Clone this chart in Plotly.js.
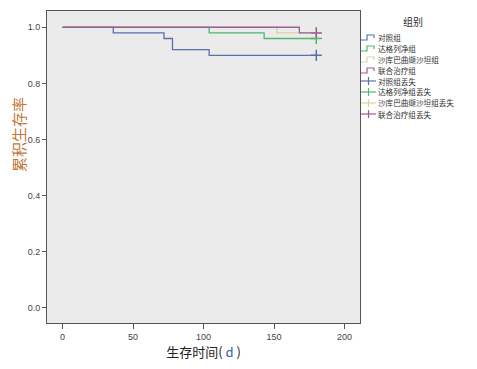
<!DOCTYPE html>
<html><head><meta charset="utf-8">
<script src="https://cdn.plot.ly/plotly-3.0.1.min.js"></script>
<style>body{margin:0;background:#fff}#chart{width:477px;height:369px}</style>
</head><body><div id="chart"></div>
<script>
const groupNames = ["对照组", "达格列净组", "沙库巴曲缬沙坦组", "联合治疗组"];
const censorNames = ["对照组丢失", "达格列净组丢失", "沙库巴曲缬沙坦组丢失", "联合治疗组丢失"];
const controlTime = [0, 36, 72, 78, 104, 180];
const controlSurv = [1.0, 0.98, 0.96, 0.92, 0.90, 0.90];
const dapaTime = [0, 104, 143, 180];
const dapaSurv = [1.0, 0.98, 0.96, 0.96];
const sacuTime = [0, 152, 180];
const sacuSurv = [1.0, 0.98, 0.98];
const comboTime = [0, 168, 180];
const comboSurv = [1.0, 0.98, 0.98];
const censorTime = [[180], [180], [180], [180]];
const censorSurv = [[0.90], [0.96], [0.98], [0.98]];
const xTicks = [0, 50, 100, 150, 200];
const yTicks = [0.0, 0.2, 0.4, 0.6, 0.8, 1.0];
const yTickText = ["0.0", "0.2", "0.4", "0.6", "0.8", "1.0"];

const colors = ["#5b6fae", "#4fb86c", "#dcd2a4", "#9a5c9a"];
const times = [controlTime, dapaTime, sacuTime, comboTime];
const survs = [controlSurv, dapaSurv, sacuSurv, comboSurv];

const traces = [];
for (let i = 0; i < 4; i++) {
  traces.push({x: times[i], y: survs[i], type: 'scatter', mode: 'lines',
    line: {shape: 'hv', color: colors[i], width: 1.3}, name: groupNames[i], showlegend: false});
}
for (let i = 0; i < 4; i++) {
  traces.push({x: censorTime[i], y: censorSurv[i], type: 'scatter', mode: 'markers',
    marker: {symbol: 'cross-thin', size: 8, line: {color: colors[i], width: 1.5}},
    name: censorNames[i], showlegend: false});
}

// custom compact legend (pixel helpers)
const PL = 47, PR = 360, PT = 11, PB = 323;
const px = v => (v - PL) / (PR - PL);
const py = v => (PB - v) / (PB - PT);
const shapes = [];
const annotations = [];
annotations.push({text: '组别', xref: 'paper', yref: 'paper', x: px(413), y: py(21), showarrow: false,
  xanchor: 'center', yanchor: 'middle', borderpad: 0, font: {family: '"Noto Sans CJK SC"', size: 10, color: '#333'}});
const allNames = groupNames.concat(censorNames);
for (let k = 0; k < 8; k++) {
  const yc = 37 + k * 11;
  const c = colors[k % 4];
  if (k < 4) {
    shapes.push({type: 'path', xref: 'paper', yref: 'paper',
      path: `M${px(361)},${py(yc + 3)} L${px(367)},${py(yc + 3)} L${px(367)},${py(yc - 2)} L${px(374)},${py(yc - 2)} L${px(374)},${py(yc + 1)}`,
      line: {color: c, width: 1.2}});
  } else {
    shapes.push({type: 'line', xref: 'paper', yref: 'paper', x0: px(361), x1: px(376), y0: py(yc), y1: py(yc), line: {color: c, width: 1.2}});
    shapes.push({type: 'line', xref: 'paper', yref: 'paper', x0: px(368.5), x1: px(368.5), y0: py(yc - 4), y1: py(yc + 4), line: {color: c, width: 1.2}});
  }
  annotations.push({text: allNames[k], xref: 'paper', yref: 'paper', x: px(377), y: py(yc), showarrow: false,
    xanchor: 'left', yanchor: 'middle', borderpad: 0,
    font: {family: '"Noto Sans CJK SC"', size: 7.6, color: '#333'}});
}
annotations.push({text: '累积生存率', xref: 'paper', yref: 'paper', x: px(18), y: py(135), textangle: -90,
  showarrow: false, font: {family: '"Noto Sans CJK SC"', size: 15, color: '#c0783a'}, xanchor: 'center', yanchor: 'middle'});

const layout = {
  width: 477, height: 369,
  margin: {l: 47, r: 117, t: 11, b: 46},
  paper_bgcolor: '#ffffff', plot_bgcolor: '#ebebeb',
  font: {family: 'Arial, "Liberation Sans", "Noto Sans CJK SC"', size: 9, color: '#444'},
  xaxis: {range: [-11, 211], tickvals: xTicks, showgrid: false, zeroline: false,
    ticks: 'outside', ticklen: 5, tickcolor: '#555', showline: true, linecolor: '#555', mirror: true,
    tickfont: {size: 9, color: '#444'},
    title: {text: '生存时间( <span style="color:#3060b0">d</span> )', font: {family: '"Noto Sans CJK SC"', size: 13, color: '#222'}, standoff: 6}},
  yaxis: {range: [-0.054, 1.058], tickvals: yTicks, ticktext: yTickText, showgrid: false, zeroline: false,
    ticks: 'outside', ticklen: 4, tickcolor: '#555', showline: true, linecolor: '#555', mirror: true,
    tickfont: {size: 9, color: '#444'}},
  showlegend: false,
  shapes: shapes,
  annotations: annotations
};
Plotly.newPlot('chart', traces, layout, {displayModeBar: false, staticPlot: true});
</script></body></html>
